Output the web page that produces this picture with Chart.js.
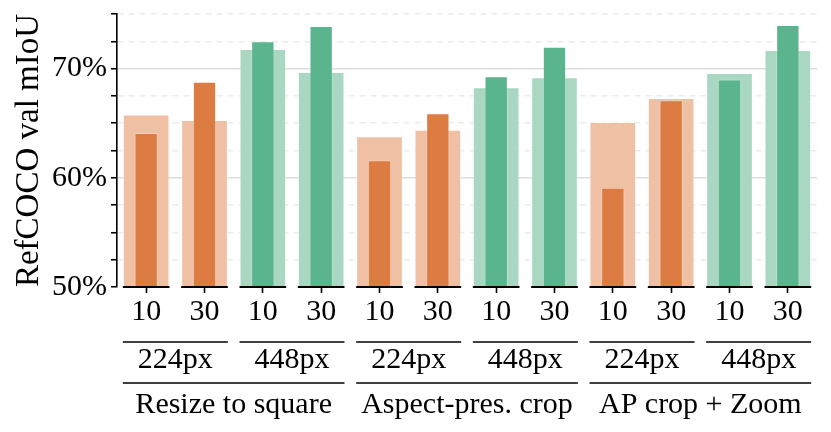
<!DOCTYPE html>
<html>
<head>
<meta charset="utf-8">
<script src="https://cdn.jsdelivr.net/npm/chart.js@4/dist/chart.umd.min.js"></script>
<style>
  html, body { margin: 0; padding: 0; background: #fff; }
  #wrap { width: 831px; height: 432px; }
</style>
</head>
<body>
<div id="wrap"><canvas id="barChart"></canvas></div>
<script>
// x tick labels (number of something: 10 / 30)
const xLabels = ['10', '30', '10', '30', '10', '30', '10', '30', '10', '30', '10', '30'];
// second level: resolution, each spans 2 bars
const resolutions = ['224px', '448px', '224px', '448px', '224px', '448px'];
// third level: preprocessing, each spans 4 bars
const methods = ['Resize to square', 'Aspect-pres. crop', 'AP crop + Zoom'];

// front (narrow, dark) bars and back (wide, light) bars, in %
const darkValues = [64.1, 68.8, 72.5, 73.9, 61.6, 65.9, 69.3, 72.0, 59.1, 67.1, 69.0, 74.0];
const lightValues = [65.8, 65.3, 71.8, 69.7, 63.8, 64.4, 68.3, 69.2, 65.1, 67.3, 69.6, 71.7];

const yTicks = [50, 60, 70];

const FONT = 'Liberation Serif';
const orangeDark = '#dc7c42', orangeLight = '#efc0a4';
const greenDark = '#5ab48e', greenLight = '#a9d7c2';

const isOrange = i => resolutions[Math.floor(i / 2)] === '224px';
const darkColors = xLabels.map((_, i) => isOrange(i) ? orangeDark : greenDark);
const lightColors = xLabels.map((_, i) => isOrange(i) ? orangeLight : greenLight);

const hierarchy = {
    id: 'hierarchy',
    afterDatasetsDraw(chart) {
        const ctx = chart.ctx;
        const meta = chart.getDatasetMeta(1);
        const bottom = chart.chartArea.bottom;
        ctx.save();
        ctx.strokeStyle = '#000';
        ctx.lineWidth = 2;
        meta.data.forEach(bar => {
            ctx.beginPath();
            ctx.moveTo(bar.x - bar.width / 2, bottom);
            ctx.lineTo(bar.x + bar.width / 2, bottom);
            ctx.stroke();
        });
        ctx.restore();
    },
    afterDraw(chart) {
        const ctx = chart.ctx;
        const meta = chart.getDatasetMeta(1);
        const top = chart.scales.x.top;
        ctx.save();
        ctx.strokeStyle = '#000';
        ctx.fillStyle = '#000';
        ctx.lineWidth = 1.6;
        ctx.font = '30px "' + FONT + '"';
        ctx.textAlign = 'center';
        ctx.textBaseline = 'middle';
        const level = (names, span, lineY, textY) => {
            names.forEach((name, k) => {
                const a = meta.data[k * span];
                const b = meta.data[k * span + span - 1];
                const x1 = a.x - a.width / 2, x2 = b.x + b.width / 2;
                ctx.beginPath();
                ctx.moveTo(x1, top + lineY);
                ctx.lineTo(x2, top + lineY);
                ctx.stroke();
                ctx.fillText(name, (x1 + x2) / 2, top + textY);
            });
        };
        level(resolutions, 2, 55, 73);
        level(methods, 4, 96, 118);
        ctx.restore();
    }
};

const data = {
    labels: xLabels,
    datasets: [{
        label: 'front',
        data: darkValues,
        backgroundColor: darkColors,
        borderColor: 'rgba(255,255,255,0.25)',
        borderWidth: 1,
        barPercentage: 0.4,
        categoryPercentage: 1,
        order: 0
    }, {
        label: 'back',
        data: lightValues,
        backgroundColor: lightColors,
        borderColor: 'rgba(255,255,255,0.35)',
        borderWidth: 1,
        barPercentage: 0.8,
        categoryPercentage: 1,
        order: 1
    }]
};

const config = {
    type: 'bar',
    data: data,
    options: {
        responsive: true,
        maintainAspectRatio: false,
        animation: false,
        grouped: false,
        layout: { padding: { top: 14, right: 14, left: 0, bottom: 0 } },
        plugins: {
            legend: { display: false },
            tooltip: { enabled: false }
        },
        scales: {
            x: {
                afterFit(scale) { scale.height = 145; },
                border: { display: false },
                grid: {
                    offset: false,
                    drawOnChartArea: false,
                    drawTicks: true,
                    tickLength: 6,
                    tickColor: '#000',
                    tickWidth: 1.6
                },
                ticks: {
                    color: '#000',
                    padding: 1,
                    maxRotation: 0,
                    font: { family: FONT, size: 30 }
                }
            },
            y: {
                min: 50,
                max: 75,
                afterFit(scale) {
                    scale.width = 117;
                    scale.paddingTop = 0;
                    scale.paddingBottom = 0;
                },
                border: {
                    color: '#000',
                    width: 1.6,
                    dash: c => (c.tick && c.tick.value % 10 !== 0) ? [6, 5] : []
                },
                grid: {
                    color: c => {
                        if (!c.tick || c.tick.value === 50) return 'rgba(0,0,0,0)';
                        return c.tick.value % 10 === 0 ? '#dddddd' : '#ebebeb';
                    },
                    lineWidth: 1.5,
                    tickColor: '#000',
                    tickLength: 6,
                    tickWidth: 1.6
                },
                ticks: {
                    stepSize: 2.5,
                    autoSkip: false,
                    padding: 4,
                    color: '#000',
                    font: { family: FONT, size: 30 },
                    callback: v => yTicks.includes(v) ? v + '%' : ''
                },
                title: {
                    display: true,
                    text: 'RefCOCO val mIoU',
                    color: '#000',
                    padding: { top: 10, bottom: 0 },
                    font: { family: FONT, size: 33 }
                }
            }
        }
    },
    plugins: [hierarchy]
};

var myChart = new Chart(
    document.getElementById('barChart'),
    config
);
</script>
</body>
</html>
